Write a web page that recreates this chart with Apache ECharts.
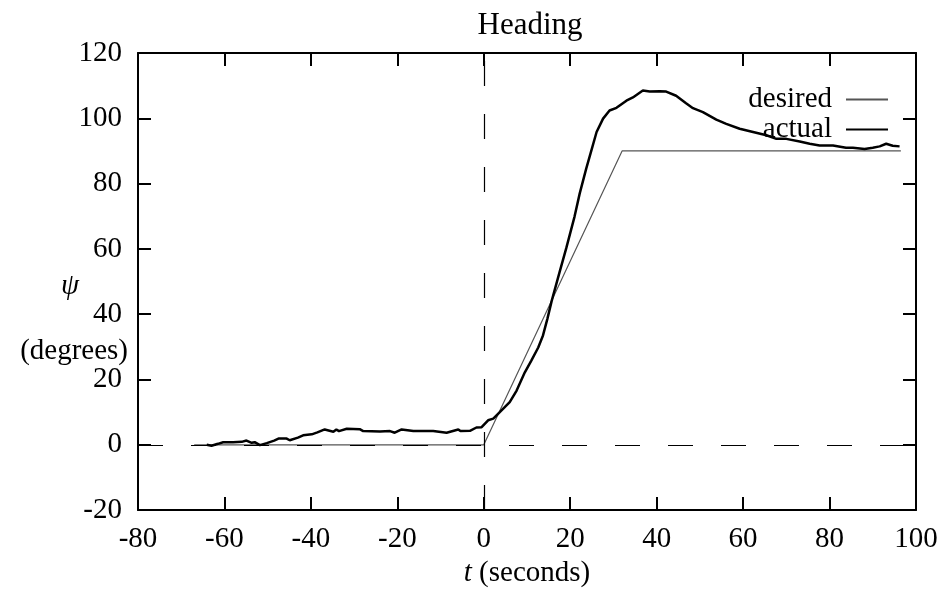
<!DOCTYPE html>
<html><head><meta charset="utf-8">
<script src="https://cdn.jsdelivr.net/npm/echarts@6/dist/echarts.min.js"></script>
<style>html,body{margin:0;padding:0;background:#fff}#c{width:946px;height:593px}</style>
</head><body><div id="c"></div>
<script>
const desiredT = [-67, 0, 32, 96.5];
const desiredPsi = [0, 0, 90, 90];
const actualT = [-64.1,-63,-61.5,-60.3,-58,-56,-54.9,-53.7,-53,-51.8,-50.2,-48.5,-47.5,-45.6,-44.9,-43,-41.8,-39.8,-38.5,-36.8,-34.8,-34.1,-33.5,-31.7,-28.7,-27.9,-24,-21.7,-20.6,-19,-16.3,-11.7,-8.6,-5.9,-5.4,-3.2,-1.7,-0.5,1.0,2.2,3.7,6.0,7.6,9.5,11.0,12.6,13.7,14.7,15.7,17.6,19.1,21.0,22.2,23.7,24.9,26.1,27.6,29.1,30.7,33,34.5,36.8,38.4,40.7,42.2,44.5,46.8,48.4,50.7,53.8,56.1,59.2,62.3,65.4,67.7,70,73.1,75.4,77.7,80.8,83.8,85.4,88.1,90,91.6,93.1,94.6,96.2];
const actualPsi = [0,-0.3,0.3,0.8,0.8,0.9,1.3,0.6,0.8,-0.1,0.5,1.3,1.9,1.9,1.4,2.2,2.9,3.2,3.8,4.7,4.0,4.7,4.2,4.9,4.8,4.2,4.1,4.2,3.7,4.7,4.2,4.2,3.7,4.7,4.2,4.3,5.3,5.4,7.5,8.0,10.0,13.1,16.6,22.2,25.8,29.8,33.5,38.5,44.0,53.2,60.3,69.9,77.0,84.6,90.2,95.8,99.9,102.4,103.2,105.4,106.4,108.5,108.2,108.3,108.2,106.9,104.6,103.1,101.9,99.6,98.3,96.8,95.8,94.8,93.7,93.7,92.9,92.2,91.7,91.7,91.0,91.0,90.6,91.0,91.4,92.2,91.6,91.4];
const xTicks = [-80, 100, 20];
const yTicks = [-20, 120, 20];

const FONT = '"Liberation Serif", "DejaVu Serif", serif';
const FS = 29;
const zip = (a, b) => a.map((v, i) => [v, b[i]]);

const chart = echarts.init(document.getElementById('c'), null, {renderer: 'canvas'});
const axCommon = {
  axisLine: {show: true, onZero: false, lineStyle: {color: '#000', width: 2}},
  axisTick: {show: true, inside: true, length: 13, lineStyle: {color: '#000', width: 2}},
  splitLine: {show: false}
};
chart.setOption({
  animation: false,
  backgroundColor: '#fff',
  title: {text: 'Heading', left: 525, top: 5, textAlign: 'center',
    textStyle: {fontFamily: FONT, fontSize: 31, fontWeight: 'normal', color: '#000'}},
  grid: {left: 138, right: 30, top: 53, bottom: 79},
  legend: {
    orient: 'vertical', right: 52, top: 80, align: 'right',
    itemWidth: 42, itemHeight: 12, itemGap: 1,
    itemStyle: {opacity: 0},
    textStyle: {fontFamily: FONT, fontSize: FS, color: '#000', padding: [0, 9, 0, 0]},
    data: ['desired', 'actual']
  },
  xAxis: [
    Object.assign({type: 'value', min: xTicks[0], max: xTicks[1], interval: xTicks[2], position: 'bottom',
      axisLabel: {fontFamily: FONT, fontSize: FS, color: '#000', margin: 15},
      name: '{i|t} (seconds)', nameLocation: 'middle', nameGap: 45,
      nameTextStyle: {fontFamily: FONT, fontSize: FS, color: '#000',
        rich: {i: {fontFamily: FONT, fontSize: FS, fontStyle: 'italic', color: '#000'}}}}, axCommon),
    Object.assign({type: 'value', min: xTicks[0], max: xTicks[1], interval: xTicks[2], position: 'top',
      axisLabel: {show: false}}, axCommon)
  ],
  yAxis: [
    Object.assign({type: 'value', min: yTicks[0], max: yTicks[1], interval: yTicks[2], position: 'left',
      axisLabel: {fontFamily: FONT, fontSize: FS, color: '#000', margin: 16}}, axCommon),
    Object.assign({type: 'value', min: yTicks[0], max: yTicks[1], interval: yTicks[2], position: 'right',
      axisLabel: {show: false}}, axCommon)
  ],
  graphic: [
    {type: 'text', x: 70, y: 286, style: {text: 'ψ', font: 'italic 29px ' + FONT, fill: '#000', align: 'center', verticalAlign: 'middle'}},
    {type: 'text', x: 128, y: 351, style: {text: '(degrees)', font: FS + 'px ' + FONT, fill: '#000', align: 'right', verticalAlign: 'middle'}}
  ],
  series: [
    {name: 'desired', type: 'line', symbol: 'none', data: zip(desiredT, desiredPsi),
      lineStyle: {color: '#555', width: 1.2}, itemStyle: {color: '#555'}, z: 3,
      markLine: {silent: true, symbol: 'none', label: {show: false},
        lineStyle: {color: '#000', width: 1.2, type: [25, 28]},
        data: [{xAxis: 0}, {yAxis: 0}]}},
    {name: 'actual', type: 'line', symbol: 'none', data: zip(actualT, actualPsi),
      lineStyle: {color: '#000', width: 2.5}, itemStyle: {color: '#000'}, z: 4}
  ]
});
</script></body></html>
